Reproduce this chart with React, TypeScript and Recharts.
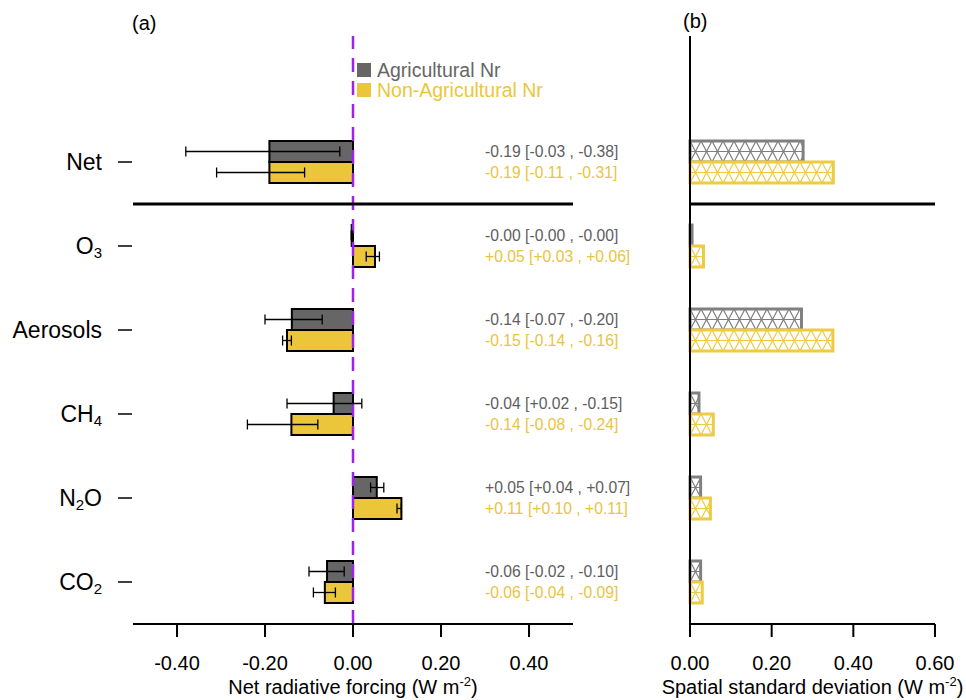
import React from 'react';
import {
  BarChart,
  Bar,
  XAxis,
  YAxis,
  ReferenceLine,
  ErrorBar,
  LabelList,
  Legend,
} from 'recharts';

const FONT = '"Liberation Sans", Arial, Helvetica, sans-serif';

const species = ['Net', 'O3', 'Aerosols', 'CH4', 'N2O', 'CO2'];

// panel (a): net radiative forcing, mean and range ends as printed
const agriForcing = [-0.19, -0.003, -0.139, -0.044, 0.054, -0.059];
const agriRangeA = [-0.03, -0.001, -0.07, 0.02, 0.04, -0.02];
const agriRangeB = [-0.38, -0.004, -0.2, -0.15, 0.07, -0.1];

const nonAgriForcing = [-0.19, 0.05, -0.15, -0.14, 0.11, -0.064];
const nonAgriRangeA = [-0.11, 0.03, -0.14, -0.08, 0.1, -0.04];
const nonAgriRangeB = [-0.31, 0.06, -0.16, -0.24, 0.11, -0.09];

// panel (b): spatial standard deviation
const agriStd = [0.277, 0.005, 0.273, 0.022, 0.026, 0.026];
const nonAgriStd = [0.351, 0.033, 0.35, 0.057, 0.05, 0.03];

const forcingTicks = [-0.4, -0.2, 0, 0.2, 0.4];
const stdTicks = [0, 0.2, 0.4, 0.6];

const GRAY = '#666666';
const GRAY_TEXT = '#5e5e5e';
const YELLOW = '#ebc63b';
const YELLOW_TEXT = '#e9c43e';
const PURPLE = '#a020f0';
const B_GRAY = '#808080';
const B_YELLOW = '#edcb45';

const fmt = (v: number) => (v < 0 ? '-' : '+') + Math.abs(v).toFixed(2);

const rows: any[] = [
  { name: '' },
  ...species.map((name, i) => {
    const a = agriForcing[i];
    const n = nonAgriForcing[i];
    const aLo = Math.min(agriRangeA[i], agriRangeB[i]);
    const aHi = Math.max(agriRangeA[i], agriRangeB[i]);
    const nLo = Math.min(nonAgriRangeA[i], nonAgriRangeB[i]);
    const nHi = Math.max(nonAgriRangeA[i], nonAgriRangeB[i]);
    return {
      name,
      agri: a,
      agriErr: [a - aLo, aHi - a],
      agriText: `${fmt(a)} [${fmt(agriRangeA[i])} , ${fmt(agriRangeB[i])}]`,
      nonAgri: n,
      nonAgriErr: [n - nLo, nHi - n],
      nonAgriText: `${fmt(n)} [${fmt(nonAgriRangeA[i])} , ${fmt(nonAgriRangeB[i])}]`,
      agriStd: agriStd[i],
      nonAgriStd: nonAgriStd[i],
    };
  }),
];

// panel (a) plot geometry
const A_LEFT = 133;
const A_WIDTH = 440;
const A_DOMAIN = [-0.5, 0.5];
const ANNOT_AT = 0.3;
const ANNOT_X = A_LEFT + ((ANNOT_AT - A_DOMAIN[0]) / (A_DOMAIN[1] - A_DOMAIN[0])) * A_WIDTH;

// panel (b) sits to the right
const B_OFFSET = 645;
const B_LEFT = 690 - B_OFFSET;

const SpeciesTick = ({ x, y, payload }: any) => {
  const name: string = payload.value;
  if (!name) return null;
  const parts = name.match(/\d+|\D+/g) || [];
  return (
    <g>
      <line x1={x - 15} x2={x - 1} y1={y} y2={y} stroke="#000" strokeWidth={1.5} />
      <text x={x - 31} y={y} textAnchor="end" dominantBaseline="central" fontSize={23} fontFamily={FONT} fill="#000">
        {parts.map((p, i) => {
          const isNum = /\d/.test(p);
          const prevNum = i > 0 && /\d/.test(parts[i - 1]);
          return isNum ? (
            <tspan key={i} dy={6} fontSize={15}>{p}</tspan>
          ) : (
            <tspan key={i} dy={prevNum ? -6 : 0}>{p}</tspan>
          );
        })}
      </text>
    </g>
  );
};

const AxisTitle = ({ viewBox, text }: any) => {
  const { x, y, width } = viewBox;
  return (
    <text x={x + width / 2} y={y + 70} textAnchor="middle" fontSize={20} fontFamily={FONT} fill="#000">
      {text} (W m<tspan dy={-8} fontSize={13}>-2</tspan>
      <tspan dy={8}>)</tspan>
    </text>
  );
};

const annot = (color: string) => (props: any) => {
  const { y, height, value } = props;
  if (value == null || value === '') return null;
  return (
    <text x={ANNOT_X} y={y + height / 2} fill={color} fontSize={15.7} fontFamily={FONT} dominantBaseline="central">
      {value}
    </text>
  );
};

const renderLegend = () => (
  <div style={{ fontFamily: FONT, fontSize: 19.5, lineHeight: '20px' }}>
    {[
      ['Agricultural Nr', GRAY],
      ['Non-Agricultural Nr', YELLOW],
    ].map(([t, c]) => (
      <div key={t} style={{ display: 'flex', alignItems: 'center', height: 20 }}>
        <span style={{ display: 'inline-block', width: 14, height: 14, background: c, marginRight: 6 }} />
        <span style={{ color: c, whiteSpace: 'nowrap' }}>{t}</span>
      </div>
    ))}
  </div>
);

const tickStyle = { fontSize: 20, fill: '#000', fontFamily: FONT };

export default function App() {
  return (
    <div style={{ position: 'absolute', left: 0, top: 0, width: 966, height: 700, background: '#fff' }}>
      <div style={{ position: 'absolute', left: 132, top: 12, fontFamily: FONT, fontSize: 20, lineHeight: '22px' }}>(a)</div>
      <div style={{ position: 'absolute', left: 683, top: 10, fontFamily: FONT, fontSize: 20, lineHeight: '22px' }}>(b)</div>

      <div style={{ position: 'absolute', left: 0, top: 0 }}>
        <BarChart
          width={B_OFFSET}
          height={700}
          data={rows}
          layout="vertical"
          margin={{ top: 36, right: B_OFFSET - A_LEFT - A_WIDTH, bottom: 0, left: 0 }}
          barCategoryGap="25%"
          barGap={0}
        >
          <XAxis
            type="number"
            domain={A_DOMAIN}
            ticks={forcingTicks}
            tickFormatter={(v: number) => v.toFixed(2)}
            height={76}
            tickSize={13}
            tickMargin={19}
            tick={tickStyle}
            axisLine={{ stroke: '#000', strokeWidth: 2 }}
            tickLine={{ stroke: '#000', strokeWidth: 2 }}
            label={<AxisTitle text="Net radiative forcing" />}
          />
          <YAxis
            type="category"
            dataKey="name"
            width={A_LEFT}
            axisLine={false}
            tickLine={false}
            tickSize={0}
            tickMargin={0}
            tick={<SpeciesTick />}
          />
          <ReferenceLine x={0} stroke={PURPLE} strokeWidth={2.5} strokeDasharray="14 9" />
          <ReferenceLine y="Net" position="end" stroke="#000" strokeWidth={3} />
          <Legend
            layout="vertical"
            align="center"
            verticalAlign="middle"
            content={renderLegend}
            wrapperStyle={{ left: 357, top: 60, width: 'auto' }}
          />
          <Bar dataKey="agri" fill={GRAY} stroke="#000" strokeWidth={2} isAnimationActive={false}>
            <ErrorBar dataKey="agriErr" direction="x" width={5} stroke="#000" strokeWidth={1.3} />
            <LabelList dataKey="agriText" content={annot(GRAY_TEXT)} />
          </Bar>
          <Bar dataKey="nonAgri" fill={YELLOW} stroke="#000" strokeWidth={2} isAnimationActive={false}>
            <ErrorBar dataKey="nonAgriErr" direction="x" width={5} stroke="#000" strokeWidth={1.3} />
            <LabelList dataKey="nonAgriText" content={annot(YELLOW_TEXT)} />
          </Bar>
        </BarChart>
      </div>

      <div style={{ position: 'absolute', left: B_OFFSET, top: 0 }}>
        <BarChart
          width={966 - B_OFFSET}
          height={700}
          data={rows}
          layout="vertical"
          margin={{ top: 36, right: 31, bottom: 0, left: 0 }}
          barCategoryGap="25%"
          barGap={0}
        >
          <defs>
            <pattern id="hatchGray" patternUnits="userSpaceOnUse" x={B_LEFT} y={15} width={11} height={21}>
              <rect width={11} height={21} fill="#fff" />
              <path d="M0,0 L11,21 M11,0 L0,21 M0,10.5 L11,10.5" stroke={B_GRAY} strokeWidth={1.2} />
            </pattern>
            <pattern id="hatchYellow" patternUnits="userSpaceOnUse" x={B_LEFT} y={15} width={11} height={21}>
              <rect width={11} height={21} fill="#fff" />
              <path d="M0,0 L11,21 M11,0 L0,21 M0,10.5 L11,10.5" stroke={B_YELLOW} strokeWidth={1.2} />
            </pattern>
          </defs>
          <XAxis
            type="number"
            domain={[0, 0.6]}
            ticks={stdTicks}
            tickFormatter={(v: number) => v.toFixed(2)}
            height={76}
            tickSize={13}
            tickMargin={19}
            tick={tickStyle}
            axisLine={{ stroke: '#000', strokeWidth: 2 }}
            tickLine={{ stroke: '#000', strokeWidth: 2 }}
            label={<AxisTitle text="Spatial standard deviation" />}
          />
          <YAxis
            type="category"
            dataKey="name"
            width={B_LEFT}
            tick={false}
            tickLine={false}
            axisLine={{ stroke: '#000', strokeWidth: 2 }}
          />
          <ReferenceLine y="Net" position="end" stroke="#000" strokeWidth={3} />
          <Bar dataKey="agriStd" fill="url(#hatchGray)" stroke={B_GRAY} strokeWidth={3} isAnimationActive={false} />
          <Bar dataKey="nonAgriStd" fill="url(#hatchYellow)" stroke={B_YELLOW} strokeWidth={3} isAnimationActive={false} />
        </BarChart>
      </div>
    </div>
  );
}
